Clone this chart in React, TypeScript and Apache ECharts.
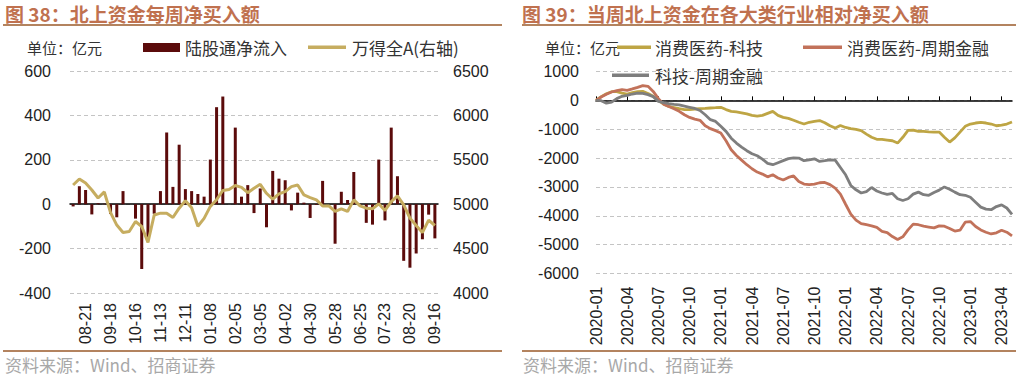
import React, { useEffect, useRef } from "react";
import * as echarts from "echarts";

// ---------- Left chart: 北上资金每周净买入额 ----------
const weeks = [
  "08-07", "08-14", "08-21", "08-28", "09-04", "09-11", "09-18", "09-25", "10-02", "10-09",
  "10-16", "10-23", "10-30", "11-06", "11-13", "11-20", "11-27", "12-04", "12-11", "12-18",
  "12-25", "01-01", "01-08", "01-15", "01-22", "01-29", "02-05", "02-12", "02-19", "02-26",
  "03-05", "03-12", "03-19", "03-26", "04-02", "04-09", "04-16", "04-23", "04-30", "05-07",
  "05-14", "05-21", "05-28", "06-04", "06-11", "06-18", "06-25", "07-02", "07-09", "07-16",
  "07-23", "07-30", "08-06", "08-13", "08-20", "08-27", "09-03", "09-10", "09-16",
];

const northNetInflow = [
  -10, 81, 64, -46, 4, 2, -44, -59, 59, 0,
  -65, -292, -150, -43, 59, 323, 78, 268, 68, 59,
  46, 34, 201, 437, 485, 0, 345, 34, 86, -40,
  71, -104, 150, 115, 108, -28, 52, 7, -62, -3,
  105, 0, -178, 56, 19, 145, -5, -84, -92, 201,
  -73, 345, 126, -255, -286, -222, -158, -47, -154,
];

const windAllA = [
  5216, 5284, 5239, 5160, 5070, 5138, 4905, 4765, 4682, 4693,
  4805, 4749, 4570, 4878, 4899, 4899, 4850, 4955, 5040, 4960,
  4752, 4840, 4975, 5050, 5155, 5165, 5210, 5190, 5130, 5180,
  5224, 5123, 5056, 5116, 5142, 5198, 5217, 5105, 5075, 5049,
  4981, 4981, 4918, 4948, 4918, 5049, 4981, 4955, 4948, 5004,
  4929, 5030, 5093, 4993, 4843, 4760, 4680, 4820, 4760,
];

// ---------- Right chart: 当周北上资金在各大类行业相对净买入额 ----------
const months = [
  "2020-01", "2020-02", "2020-03", "2020-04", "2020-05", "2020-06", "2020-07", "2020-08", "2020-09", "2020-10", "2020-11", "2020-12",
  "2021-01", "2021-02", "2021-03", "2021-04", "2021-05", "2021-06", "2021-07", "2021-08", "2021-09", "2021-10", "2021-11", "2021-12",
  "2022-01", "2022-02", "2022-03", "2022-04", "2022-05", "2022-06", "2022-07", "2022-08", "2022-09", "2022-10", "2022-11", "2022-12",
  "2023-01", "2023-02", "2023-03", "2023-04", "2023-05",
];

const consumerVsTech = [
  0, 130, 230, 300, 300, 250, 220, 265, 300, 310,
  240, 140, 0, -130, -210, -250, -290, -320, -320, -300,
  -290, -280, -265, -255, -240, -320, -380, -400, -430, -470,
  -520, -545, -520, -450, -380, -520, -590, -625, -690, -760,
  -820, -760, -730, -700, -775, -880, -960, -870, -940, -980,
  -1005, -1050, -1170, -1280, -1350, -1350, -1375, -1400, -1480, -1280,
  -1040, -1030, -1075, -1075, -1090, -1100, -1100, -1280, -1445, -1300,
  -1100, -900, -820, -785, -760, -785, -820, -880, -855, -820,
  -750,
];

const consumerVsCyclical = [
  0, 115, 210, 290, 335, 370, 345, 395, 450, 510,
  485, 310, 60, -130, -210, -290, -380, -500, -590, -650,
  -690, -880, -980, -1050, -1130, -1400, -1710, -1910, -2070, -2230,
  -2370, -2485, -2555, -2650, -2580, -2690, -2760, -2670, -2620, -2810,
  -2900, -2920, -2900, -2855, -2845, -2920, -3040, -3250, -3600, -3940,
  -4150, -4270, -4310, -4350, -4400, -4540, -4580, -4720, -4820, -4730,
  -4490, -4290, -4310, -4360, -4390, -4420, -4350, -4360, -4440, -4530,
  -4500, -4220, -4200, -4370, -4490, -4570, -4630, -4590, -4500, -4570,
  -4700,
];

const techVsCyclical = [
  0, -10, -100, -60, 60, 140, 175, 220, 250, 240,
  200, 130, -35, -80, -115, -140, -160, -200, -240, -280,
  -350, -500, -670, -730, -900, -1075, -1310, -1480, -1620, -1745,
  -1850, -1920, -2035, -2185, -2230, -2160, -2090, -2020, -1990, -2000,
  -2090, -2060, -2025, -2115, -2090, -2060, -2070, -2325, -2580, -2950,
  -3100, -3210, -3160, -3020, -3140, -3210, -3260, -3225, -3410, -3470,
  -3410, -3250, -3180, -3270, -3290, -3190, -3110, -3000, -3080, -3180,
  -3270, -3290, -3360, -3530, -3700, -3770, -3790, -3680, -3620, -3730,
  -3950,
];

const NUM_FONT = '"Liberation Sans", Arial, "Noto Sans CJK SC", sans-serif';
const CJK_FONT = '"Noto Sans CJK SC", "Liberation Sans", sans-serif';

const C_BAR = "#5b0b0b";
const C_WIND = "#c6ad60";
const C_YELLOW = "#bea544";
const C_ORANGE = "#c2725a";
const C_GRAY = "#7e7e7e";
const C_TITLE = "#c0714f";
const C_RULE = "#b3835f";

export default function App() {
  const ref = useRef<HTMLDivElement>(null);

  useEffect(() => {
    document.body.style.margin = "0";
    const chart = echarts.init(ref.current!, null, { renderer: "svg" });

    const halfMonths = months
      .flatMap((m) => [m + "-01", m + "-16"])
      .slice(0, consumerVsTech.length);

    const splitLine = {
      show: true,
      lineStyle: { color: "#c4c4c4", type: [4, 3] as any, width: 1 },
    };
    const numLabel = {
      fontSize: 16,
      color: "#222",
      fontFamily: NUM_FONT,
      formatter: (v: number) => String(v),
    };

    const txt = (text: string, x: number, y: number, size: number, fill: string, bold = false) => ({
      type: "text",
      x,
      y,
      style: {
        text,
        fill,
        font: `${bold ? "bold " : ""}${size}px ${CJK_FONT}`,
        align: "left",
        verticalAlign: "middle",
      },
    });
    const rect = (x: number, y: number, w: number, h: number, fill: string) => ({
      type: "rect",
      shape: { x, y, width: w, height: h },
      style: { fill },
    });
    const rule = (x1: number, x2: number, y: number) => ({
      type: "line",
      shape: { x1, y1: y, x2, y2: y },
      style: { stroke: C_RULE, lineWidth: 2 },
    });

    const option: any = {
      animation: false,
      backgroundColor: "#ffffff",
      grid: [
        { left: 70, top: 71, width: 368, height: 222 },
        { left: 596, top: 71.5, width: 416, height: 202 },
      ],
      xAxis: [
        {
          type: "category",
          gridIndex: 0,
          data: weeks,
          boundaryGap: true,
          position: "bottom",
          axisLine: { show: false, onZero: false },
          axisTick: { show: false },
          axisLabel: {
            fontSize: 16,
            color: "#222",
            fontFamily: NUM_FONT,
            interval: (i: number) => i % 4 === 2,
            rotate: 90,
            margin: 10,
          },
          splitLine: { show: false },
        },
        {
          type: "category",
          gridIndex: 0,
          data: weeks,
          boundaryGap: true,
          axisLine: { show: true, onZero: true, lineStyle: { color: "#000", width: 1.5 } },
          axisTick: { show: false },
          axisLabel: { show: false },
          splitLine: { show: false },
        },
        {
          type: "category",
          gridIndex: 1,
          data: halfMonths,
          boundaryGap: false,
          position: "bottom",
          axisLine: { show: false, onZero: false },
          axisTick: { show: false },
          axisLabel: {
            fontSize: 16,
            color: "#222",
            fontFamily: NUM_FONT,
            interval: (i: number) => i % 6 === 0,
            rotate: 90,
            margin: 13,
            formatter: (v: string) => v.slice(0, 7),
          },
          splitLine: { show: false },
        },
        {
          type: "category",
          gridIndex: 1,
          data: halfMonths,
          boundaryGap: false,
          axisLine: { show: true, onZero: true, lineStyle: { color: "#000", width: 1.5 } },
          axisTick: {
            show: true,
            interval: (i: number) => i % 6 === 0,
            length: 4,
            lineStyle: { color: "#000", width: 1 },
          },
          axisLabel: { show: false },
          splitLine: { show: false },
        },
      ],
      yAxis: [
        {
          type: "value",
          gridIndex: 0,
          min: -400,
          max: 600,
          interval: 200,
          axisLine: { show: false },
          axisTick: { show: false },
          axisLabel: { ...numLabel, margin: 19 },
          splitLine,
        },
        {
          type: "value",
          gridIndex: 0,
          position: "right",
          min: 4000,
          max: 6500,
          interval: 500,
          axisLine: { show: false },
          axisTick: { show: false },
          axisLabel: { ...numLabel, margin: 15 },
          splitLine: { show: false },
        },
        {
          type: "value",
          gridIndex: 1,
          min: -6000,
          max: 1000,
          interval: 1000,
          axisLine: { show: false },
          axisTick: { show: false },
          axisLabel: { ...numLabel, margin: 17 },
          splitLine,
        },
      ],
      series: [
        {
          name: "陆股通净流入",
          type: "bar",
          xAxisIndex: 0,
          yAxisIndex: 0,
          data: northNetInflow,
          barWidth: 3,
          itemStyle: { color: C_BAR },
        },
        {
          name: "万得全A(右轴)",
          type: "line",
          xAxisIndex: 0,
          yAxisIndex: 1,
          data: windAllA,
          symbol: "none",
          lineStyle: { color: C_WIND, width: 3 },
          itemStyle: { color: C_WIND },
          z: 3,
        },
        {
          name: "消费医药-科技",
          type: "line",
          xAxisIndex: 2,
          yAxisIndex: 2,
          data: consumerVsTech,
          symbol: "none",
          lineStyle: { color: C_YELLOW, width: 2.8 },
          itemStyle: { color: C_YELLOW },
        },
        {
          name: "消费医药-周期金融",
          type: "line",
          xAxisIndex: 2,
          yAxisIndex: 2,
          data: consumerVsCyclical,
          symbol: "none",
          lineStyle: { color: C_ORANGE, width: 2.8 },
          itemStyle: { color: C_ORANGE },
        },
        {
          name: "科技-周期金融",
          type: "line",
          xAxisIndex: 2,
          yAxisIndex: 2,
          data: techVsCyclical,
          symbol: "none",
          lineStyle: { color: C_GRAY, width: 2.8 },
          itemStyle: { color: C_GRAY },
        },
      ],
      graphic: [
        // titles and rules
        txt("图 38：北上资金每周净买入额", 5, 13, 19, C_TITLE, true),
        rule(3, 502, 25),
        txt("图 39：当周北上资金在各大类行业相对净买入额", 522, 13, 19, C_TITLE, true),
        rule(522, 1016, 25),
        // left legend
        txt("单位：亿元", 27, 47, 15, "#333"),
        rect(143, 43, 37, 9, C_BAR),
        txt("陆股通净流入", 185, 47, 17, "#333"),
        rect(308, 45.5, 38, 3.5, C_WIND),
        txt("万得全A(右轴)", 352, 47, 17, "#333"),
        // right legend
        txt("单位：亿元", 545, 47, 15, "#333"),
        rect(617, 45.5, 34, 3.5, C_YELLOW),
        txt("消费医药-科技", 655, 47, 17, "#333"),
        rect(803, 45.5, 39, 3.5, C_ORANGE),
        txt("消费医药-周期金融", 847, 47, 17, "#333"),
        rect(612, 73.5, 37, 3.5, C_GRAY),
        txt("科技-周期金融", 655, 75, 17, "#333"),
        // bottom rules and sources
        rule(3, 502, 351),
        rule(522, 1016, 351),
        txt("资料来源：Wind、招商证券", 5, 364, 17, "#a8a8a8"),
        txt("资料来源：Wind、招商证券", 523, 364, 17, "#a8a8a8"),
      ],
    };

    chart.setOption(option);
    return () => chart.dispose();
  }, []);

  return <div ref={ref} style={{ width: 1018, height: 376 }} />;
}
